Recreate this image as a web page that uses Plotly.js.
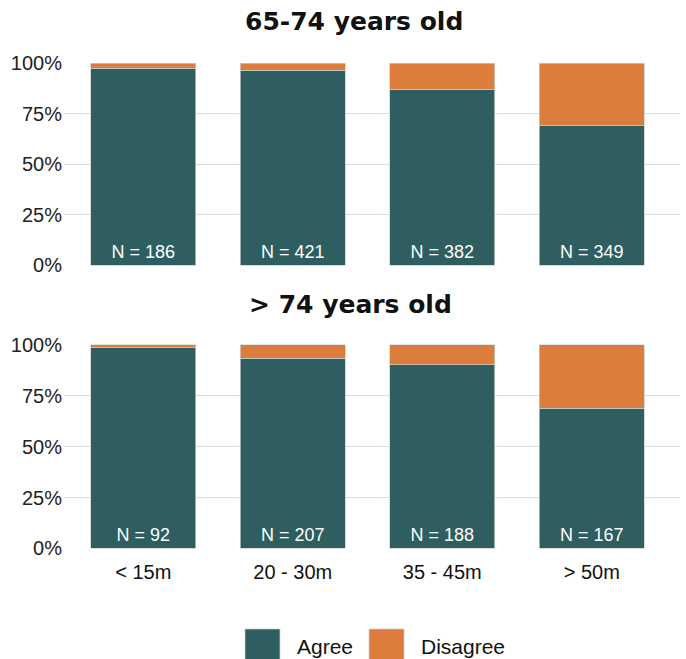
<!DOCTYPE html>
<html>
<head>
<meta charset="utf-8">
<script src="https://cdn.plot.ly/plotly-3.0.1.min.js"></script>
<style>html,body{margin:0;padding:0;background:#fff;}#chart{width:686px;height:659px;}</style>
</head>
<body>
<div id="chart"></div>
<script>
const categories = ["< 15m", "20 - 30m", "35 - 45m", "> 50m"];
const panelTitles = ["65-74 years old", "> 74 years old"];
const agreeTop = [0.975, 0.966, 0.871, 0.692];
const agreeBottom = [0.987, 0.935, 0.902, 0.689];
const nTop = [186, 421, 382, 349];
const nBottom = [92, 207, 188, 167];
const seriesNames = ["Agree", "Disagree"];
const colors = ["#2e5e5f", "#dc7d3d"];
const yTicks = [0, 0.25, 0.5, 0.75, 1];
const yTickText = ["0%", "25%", "50%", "75%", "100%"];

const W = 686, H = 659;
const px = x => x / W;
const py = y => (H - y) / H;

const barLine = {color: "rgba(205,205,205,0.9)", width: 0.8};
const fontFam = "Liberation Sans, Arial, sans-serif";
const titleFam = "DejaVu Sans, sans-serif";

function mkTraces(agree, ns, xa, ya) {
  const disagree = agree.map(v => 1 - v);
  return [
    {type: "bar", x: categories, y: agree, name: seriesNames[0], xaxis: xa, yaxis: ya,
     marker: {color: colors[0], line: barLine}, width: 0.7,
     text: ns, texttemplate: "N = %{text}", textposition: "inside", insidetextanchor: "start",
     textangle: 0, constraintext: "none",
     insidetextfont: {color: "#ffffff", size: 18, family: fontFam},
     hoverinfo: "skip", showlegend: false},
    {type: "bar", x: categories, y: disagree, name: seriesNames[1], xaxis: xa, yaxis: ya,
     marker: {color: colors[1], line: barLine}, width: 0.7, textposition: "none",
     hoverinfo: "skip", showlegend: false}
  ];
}

const data = [].concat(
  mkTraces(agreeTop, nTop, "x", "y"),
  mkTraces(agreeBottom, nBottom, "x2", "y2")
);

const xRange = [-0.53, 3.59];
const xDomain = [px(64), px(680)];
function yAxis(domain, anchor) {
  return {domain: domain, anchor: anchor, range: [-0.003, 1.003], tickvals: yTicks, ticktext: yTickText,
    showgrid: true, gridcolor: "#dcdcdc", gridwidth: 1, zeroline: false, showline: false,
    ticks: "", ticklabelstandoff: 1,
    tickfont: {family: fontFam, size: 20, color: "#222"}, fixedrange: true};
}

const layout = {
  width: W, height: H,
  margin: {l: 0, r: 0, t: 0, b: 0},
  paper_bgcolor: "#ffffff", plot_bgcolor: "#ffffff",
  barmode: "stack", showlegend: false,
  xaxis: {domain: xDomain, anchor: "y", type: "category", categoryarray: categories, range: xRange,
    showticklabels: false, showgrid: false, zeroline: false, ticks: "", fixedrange: true},
  yaxis: yAxis([py(266), py(62.7)], "x"),
  xaxis2: {domain: xDomain, anchor: "y2", type: "category", categoryarray: categories, range: xRange,
    showgrid: false, zeroline: false, ticks: "", ticklabelstandoff: 9,
    tickfont: {family: fontFam, size: 20, color: "#111"}, fixedrange: true},
  yaxis2: yAxis([py(549), py(344.3)], "x2"),
  annotations: [
    {text: "<b>" + panelTitles[0] + "</b>", xref: "paper", yref: "paper", x: px(354), y: py(22),
     xanchor: "center", yanchor: "middle", showarrow: false,
     font: {family: titleFam, size: 25, color: "#111"}},
    {text: "<b>" + panelTitles[1] + "</b>", xref: "paper", yref: "paper", x: px(351), y: py(304),
     xanchor: "center", yanchor: "middle", showarrow: false,
     font: {family: titleFam, size: 25, color: "#111"}},
    {text: seriesNames[0], xref: "paper", yref: "paper", x: px(295), y: py(646),
     xanchor: "left", yanchor: "middle", showarrow: false,
     font: {family: fontFam, size: 21, color: "#111"}},
    {text: seriesNames[1], xref: "paper", yref: "paper", x: px(419), y: py(646),
     xanchor: "left", yanchor: "middle", showarrow: false,
     font: {family: fontFam, size: 21, color: "#111"}}
  ],
  shapes: [
    {type: "rect", xref: "paper", yref: "paper", x0: px(245), x1: px(280), y0: py(629), y1: py(668),
     fillcolor: colors[0], line: {color: "rgba(205,205,205,0.9)", width: 0.8}},
    {type: "rect", xref: "paper", yref: "paper", x0: px(369), x1: px(404), y0: py(629), y1: py(668),
     fillcolor: colors[1], line: {color: "rgba(205,205,205,0.9)", width: 0.8}}
  ]
};

Plotly.newPlot("chart", data, layout, {displayModeBar: false, staticPlot: true});
</script>
</body>
</html>
